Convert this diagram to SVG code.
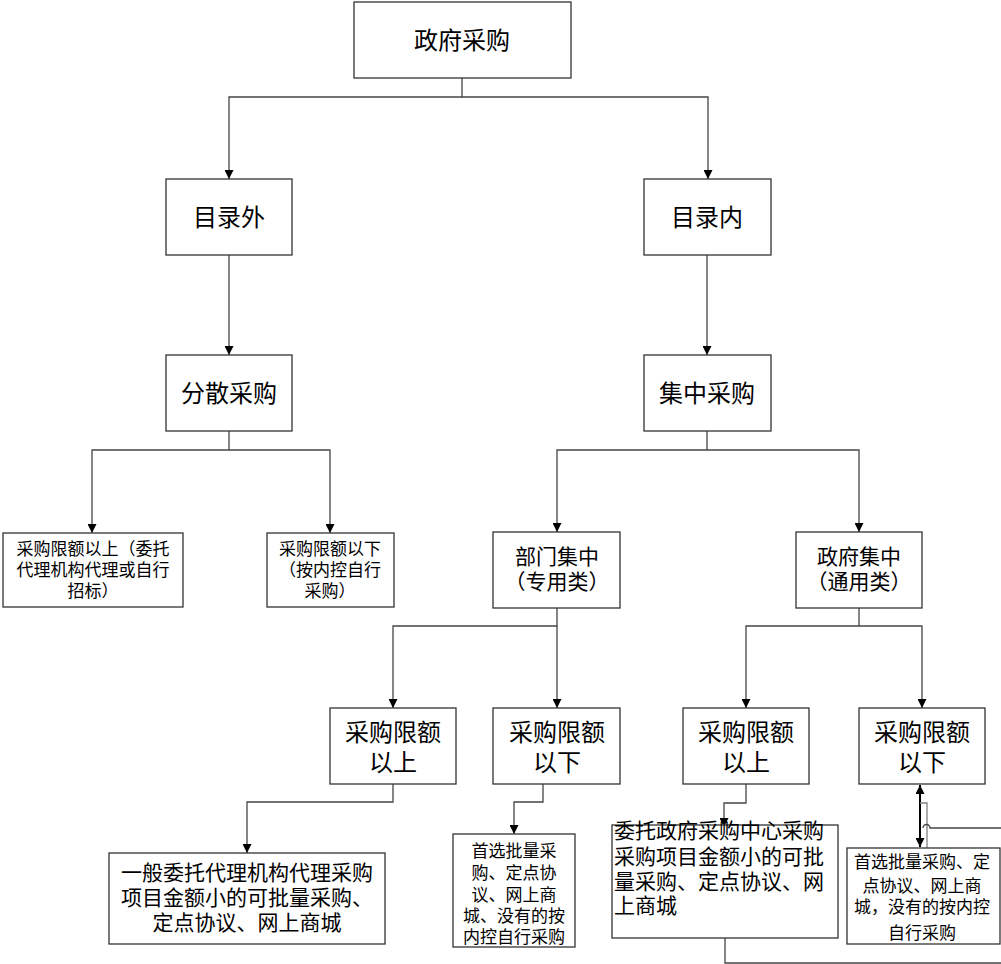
<svg xmlns="http://www.w3.org/2000/svg" width="1001" height="964" viewBox="0 0 1001 964">
<style>
  .box { fill: #ffffff; stroke: #333333; stroke-width: 1.3; }
  .t { font-family: "Noto Sans CJK SC", "Noto Sans", sans-serif; fill: #000000; text-anchor: middle; dominant-baseline: central; }
  .tl { text-anchor: start; }
  .s24 { font-size: 24px; }
  .s21 { font-size: 21px; }
  .s17 { font-size: 17px; }
  .s17b { font-size: 17px; }
  .c { fill: none; stroke: #454545; stroke-width: 1.3; }
  .cg { fill: none; stroke: #808080; stroke-width: 1.3; }
  .cb { fill: none; stroke: #000000; stroke-width: 2; }
</style>
<defs>
  <marker id="arr" viewBox="0 0 10 10" refX="10" refY="5" markerWidth="9" markerHeight="9" markerUnits="userSpaceOnUse" orient="auto-start-reverse">
    <path d="M0,0 L10,5 L0,10 z" fill="#000000"/>
  </marker>
</defs>
<rect x="0" y="0" width="1001" height="964" fill="#ffffff"/>

<g id="connectors">
  <path class="c" d="M462,78 V97 H229 V179" marker-end="url(#arr)"/>
  <path class="c" d="M462,97 H708 V179" marker-end="url(#arr)"/>
  <path class="c" d="M229,255 V355" marker-end="url(#arr)"/>
  <path class="c" d="M707,255 V355" marker-end="url(#arr)"/>
  <path class="c" d="M229,431 V450 H92 V533" marker-end="url(#arr)"/>
  <path class="c" d="M229,450 H330 V533" marker-end="url(#arr)"/>
  <path class="c" d="M707,431 V450 H557 V532" marker-end="url(#arr)"/>
  <path class="c" d="M707,450 H859 V532" marker-end="url(#arr)"/>
  <path class="c" d="M557,608 V626 H393 V708" marker-end="url(#arr)"/>
  <path class="c" d="M557,626 V708" marker-end="url(#arr)"/>
  <path class="c" d="M859,608 V626 H746 V708" marker-end="url(#arr)"/>
  <path class="c" d="M859,626 H922 V708" marker-end="url(#arr)"/>
  <path class="c" d="M393,784 V802 H247 V853" marker-end="url(#arr)"/>
  <path class="c" d="M543,784 V802 H514 V834" marker-end="url(#arr)"/>
  <path class="c" d="M746,784 V803 H724 V827" marker-end="url(#arr)"/>
  <path class="cb" d="M920,785 V847" marker-start="url(#arr)" marker-end="url(#arr)"/>
  <path class="cg" d="M920,803 H927 V870" marker-end="url(#arr)"/>
  <path class="c" d="M1001,828 H930 A3.5,3.5 0 0 0 923,828"/>
  <path class="c" d="M725,938 V963 H1001"/>
</g>

<g id="n1"><rect class="box" x="354" y="2" width="217" height="76"/><text class="t s24" x="462" y="38">政府采购</text></g>
<g id="n2"><rect class="box" x="166" y="179" width="126" height="76"/><text class="t s24" x="229" y="215">目录外</text></g>
<g id="n3"><rect class="box" x="644" y="179" width="127" height="76"/><text class="t s24" x="707" y="215">目录内</text></g>
<g id="n4"><rect class="box" x="166" y="355" width="126" height="76"/><text class="t s24" x="229" y="391">分散采购</text></g>
<g id="n5"><rect class="box" x="644" y="355" width="127" height="76"/><text class="t s24" x="707" y="391">集中采购</text></g>

<g id="n6"><rect class="box" x="3" y="533" width="180" height="74"/>
  <text class="t s17" x="93" y="547">采购限额以上（委托</text>
  <text class="t s17" x="93" y="568">代理机构代理或自行</text>
  <text class="t s17" x="93" y="589">招标）</text>
</g>
<g id="n7"><rect class="box" x="267" y="533" width="127" height="74"/>
  <text class="t s17" x="330" y="547">采购限额以下</text>
  <text class="t s17" x="330" y="568">（按内控自行</text>
  <text class="t s17" x="330" y="589">采购）</text>
</g>
<g id="n8"><rect class="box" x="493" y="532" width="127" height="76"/>
  <text class="t s21" x="557" y="555">部门集中</text>
  <text class="t s21" x="557" y="580">（专用类）</text>
</g>
<g id="n9"><rect class="box" x="796" y="532" width="126" height="76"/>
  <text class="t s21" x="859" y="555">政府集中</text>
  <text class="t s21" x="859" y="580">（通用类）</text>
</g>

<g id="n10"><rect class="box" x="330" y="708" width="126" height="76"/>
  <text class="t s24" x="393" y="730">采购限额</text>
  <text class="t s24" x="393" y="760">以上</text>
</g>
<g id="n11"><rect class="box" x="493" y="708" width="127" height="76"/>
  <text class="t s24" x="557" y="730">采购限额</text>
  <text class="t s24" x="557" y="760">以下</text>
</g>
<g id="n12"><rect class="box" x="683" y="708" width="126" height="76"/>
  <text class="t s24" x="746" y="730">采购限额</text>
  <text class="t s24" x="746" y="760">以上</text>
</g>
<g id="n13"><rect class="box" x="859" y="708" width="126" height="76"/>
  <text class="t s24" x="922" y="730">采购限额</text>
  <text class="t s24" x="922" y="760">以下</text>
</g>

<g id="n14"><rect class="box" x="109" y="853" width="276" height="91"/>
  <text class="t s21" x="247" y="871">一般委托代理机构代理采购</text>
  <text class="t s21" x="247" y="896">项目金额小的可批量采购、</text>
  <text class="t s21" x="247" y="921">定点协议、网上商城</text>
</g>
<g id="n15"><rect class="box" x="453" y="834" width="122" height="113"/>
  <text class="t s17" x="514" y="849">首选批量采</text>
  <text class="t s17" x="514" y="871">购、定点协</text>
  <text class="t s17" x="514" y="893">议、网上商</text>
  <text class="t s17" x="514" y="914">城、没有的按</text>
  <text class="t s17" x="514" y="935">内控自行采购</text>
</g>
<g id="n16"><rect class="box" x="612" y="825" width="226" height="113"/>
  <text class="t tl s21" x="614" y="829">委托政府采购中心采购</text>
  <text class="t tl s21" x="614" y="855">采购项目金额小的可批</text>
  <text class="t tl s21" x="614" y="880">量采购、定点协议、网</text>
  <text class="t tl s21" x="614" y="904">上商城</text>
</g>
<g id="n17"><rect class="box" x="847" y="848" width="153" height="96"/>
  <text class="t s17b" x="922" y="860">首选批量采购、定</text>
  <text class="t s17b" x="922" y="884">点协议、网上商</text>
  <text class="t s17b" x="922" y="905">城，没有的按内控</text>
  <text class="t s17b" x="922" y="931">自行采购</text>
</g>
</svg>
